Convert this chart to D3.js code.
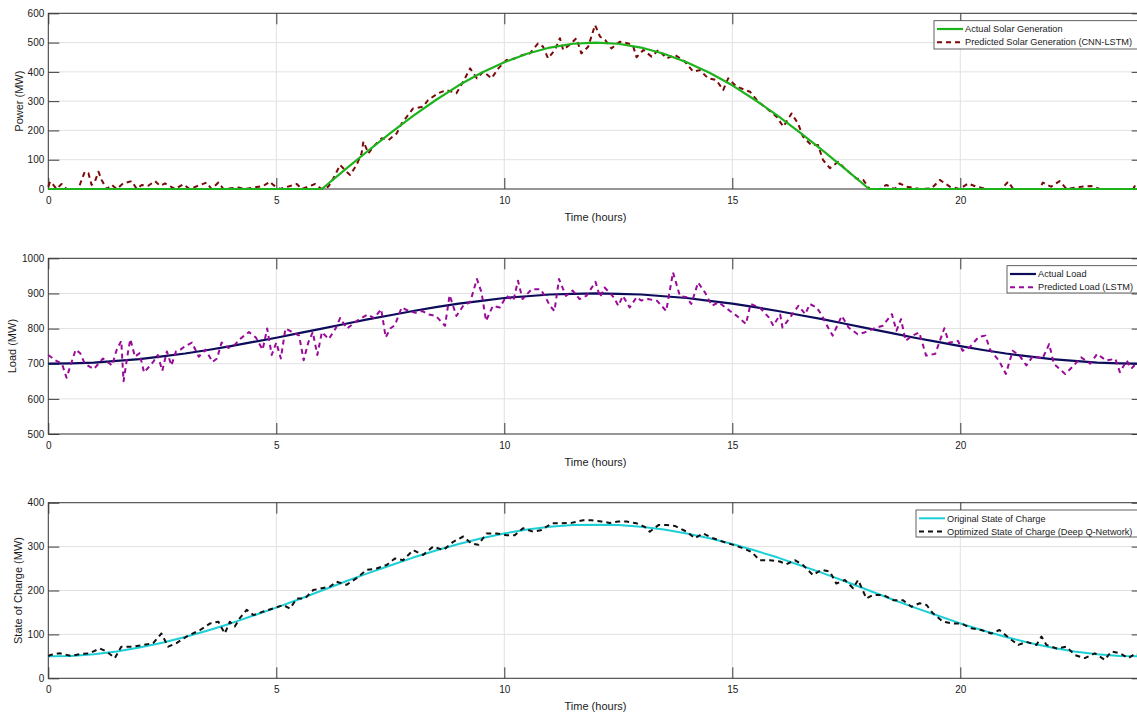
<!DOCTYPE html>
<html><head><meta charset="utf-8">
<script src="https://cdn.jsdelivr.net/npm/d3@7"></script>
<style>
body{margin:0;background:#fff}
svg{display:block}
text{font-family:"Liberation Sans",Arial,Helvetica,sans-serif;fill:#1a1a1a}
</style>
</head><body>
<svg id="chart" width="1137" height="715"></svg>
<script>
// ---------------- DATA ----------------
const hours = [0,0.5,1,1.5,2,2.5,3,3.5,4,4.5,5,5.5,6,6.5,7,7.5,8,8.5,9,9.5,10,10.5,11,11.5,12,
  12.5,13,13.5,14,14.5,15,15.5,16,16.5,17,17.5,18,18.5,19,19.5,20,20.5,21,21.5,22,22.5,23,23.5,24];

const xTicks = [0,5,10,15,20];
const solarTicks = [0,100,200,300,400,500,600];
const loadTicks = [500,600,700,800,900,1000];
const socTicks = [0,100,200,300,400];

const solarActual = [0,0,0,0,0,0,0,0,0,0,0,0,
  0,65,129,191,250,304,354,397,433,462,483,496,500,496,483,462,433,397,354,304,250,191,129,65,0,
  0,0,0,0,0,0,0,0,0,0,0,0];

const solarPredicted = [[0,8],[0.04,25],[0.11,14],[0.18,0],[0.29,17],[0.4,0],[0.66,0],[0.73,31],[0.8,59],[0.88,54],
  [0.95,14],[1.02,25],[1.1,59],[1.17,31],[1.28,0],[1.39,14],[1.5,0],[1.64,19],[1.83,27],[1.94,0],
  [2.05,14],[2.19,11],[2.34,27],[2.45,11],[2.56,19],[2.78,0],[2.96,16],[3.1,0],[3.47,22],[3.58,0],
  [3.73,22],[3.84,0],[4.17,5],[4.3,0],[4.71,10],[4.86,25],[4.93,14],[5.08,0],[5.45,17],[5.56,0],
  [5.7,8],[5.85,17],[5.99,0],[6.14,8],[6.25,36],[6.4,82],[6.54,59],[6.62,48],[6.76,82],[6.87,122],
  [6.91,162],[7.02,122],[7.13,145],[7.31,173],[7.46,167],[7.64,190],[7.75,224],[8.0,275],[8.22,281],[8.33,304],
  [8.55,327],[8.73,338],[8.95,327],[9.1,367],[9.25,412],[9.4,378],[9.54,401],[9.72,378],[9.87,412],[10.05,441],
  [10.23,446],[10.41,458],[10.56,463],[10.74,497],[10.85,486],[10.96,446],[11.11,475],[11.22,515],[11.29,475],[11.45,495],
  [11.58,515],[11.69,463],[11.84,486],[11.99,560],[12.1,520],[12.21,509],[12.35,480],[12.53,503],[12.72,497],[12.83,486],
  [12.9,450],[13.05,475],[13.23,452],[13.38,475],[13.56,446],[13.74,458],[13.96,435],[14.14,401],[14.29,406],[14.47,378],
  [14.65,372],[14.8,338],[14.91,378],[15.09,350],[15.25,340],[15.39,332],[15.57,298],[15.75,276],[15.97,247],[16.12,213],
  [16.3,258],[16.44,224],[16.55,179],[16.73,150],[16.88,150],[16.99,99],[17.14,71],[17.32,93],[17.5,65],[17.72,36],
  [17.87,31],[18.01,0],[18.23,0],[18.38,14],[18.56,0],[18.67,19],[18.82,8],[19.11,0],[19.37,2],[19.55,31],
  [19.77,8],[19.99,0],[20.17,19],[20.35,8],[20.57,0],[20.9,0],[21.05,25],[21.16,0],[21.5,0],[21.74,0],
  [21.81,22],[21.99,8],[22.18,27],[22.33,0],[22.66,8],[22.88,10],[23.06,0],[23.5,0],[23.79,0],[23.86,19],[24,5]];

const loadActual = [700,701,703,708,713,721,729,739,750,762,774,787,800,813,826,838,850,861,871,879,887,892,897,899,900,
  899,897,892,887,879,871,861,850,838,826,813,800,787,774,762,750,739,729,721,713,708,703,701,700];

const loadPredicted = [[0,725],[0.15,710],[0.3,700],[0.4,660],[0.5,700],[0.6,740],[0.7,730],[0.8,700],[1.0,685],[1.1,700],
  [1.2,715],[1.35,700],[1.4,695],[1.5,740],[1.6,765],[1.65,650],[1.75,735],[1.8,770],[1.9,720],[2.0,730],
  [2.1,675],[2.2,690],[2.3,705],[2.4,725],[2.5,680],[2.6,735],[2.7,695],[2.8,735],[2.9,740],[3.0,750],
  [3.15,760],[3.3,720],[3.45,740],[3.6,705],[3.7,715],[3.8,760],[3.95,745],[4.1,755],[4.2,770],[4.4,790],
  [4.55,775],[4.7,740],[4.8,800],[4.9,725],[5.0,760],[5.1,715],[5.2,800],[5.35,790],[5.5,780],[5.6,710],
  [5.7,760],[5.8,790],[5.9,725],[6.0,790],[6.15,770],[6.3,800],[6.4,830],[6.55,800],[6.7,815],[6.8,825],
  [7.0,840],[7.15,830],[7.3,855],[7.4,775],[7.5,800],[7.6,810],[7.75,860],[7.9,850],[8.05,845],[8.2,850],
  [8.35,840],[8.5,836],[8.7,808],[8.8,895],[8.95,836],[9.1,865],[9.25,875],[9.4,941],[9.5,903],[9.6,822],
  [9.75,865],[9.9,860],[10.05,893],[10.2,880],[10.3,936],[10.4,884],[10.6,912],[10.8,912],[10.9,890],[11.0,865],
  [11.1,850],[11.2,941],[11.35,893],[11.5,908],[11.65,884],[11.8,893],[12.0,933],[12.1,889],[12.2,917],[12.4,889],
  [12.5,865],[12.6,893],[12.75,860],[12.9,889],[13.0,880],[13.15,884],[13.35,879],[13.55,850],[13.7,960],[13.85,893],
  [14.0,889],[14.1,870],[14.25,931],[14.4,903],[14.55,865],[14.7,875],[14.8,865],[14.95,850],[15.1,836],[15.3,813],
  [15.4,870],[15.6,860],[15.8,832],[15.9,808],[16.05,840],[16.1,803],[16.27,832],[16.45,865],[16.6,841],[16.7,870],
  [16.85,860],[16.95,841],[17.1,803],[17.2,780],[17.4,836],[17.55,803],[17.75,784],[17.9,789],[18.1,800],[18.3,808],
  [18.5,841],[18.6,794],[18.7,827],[18.8,765],[18.95,780],[19.1,789],[19.25,723],[19.45,728],[19.65,801],[19.75,760],
  [19.95,765],[20.05,737],[20.2,746],[20.4,776],[20.55,780],[20.65,741],[20.85,708],[21.0,671],[21.15,737],[21.3,723],
  [21.45,695],[21.6,723],[21.8,714],[21.95,756],[22.05,700],[22.3,671],[22.45,690],[22.65,718],[22.85,700],[23.0,728],
  [23.2,709],[23.4,714],[23.5,676],[23.65,709],[23.75,686],[23.85,700],[24.0,690]];

const socActual = [50,51,55,61,70,81,94,109,125,143,161,180,200,220,239,257,275,291,306,319,330,339,345,349,350,
  349,345,339,330,319,306,291,275,257,239,220,200,180,161,143,125,109,94,81,70,61,55,51,50];

const socOptimized = [[0,50],[0.04,53],[0.25,57],[0.5,51],[0.7,55],[0.9,57],[1.13,68],[1.28,61],[1.46,46],[1.6,72],
  [1.86,72],[2.08,76],[2.3,80],[2.48,102],[2.63,72],[2.81,80],[3.03,95],[3.33,110],[3.55,125],[3.73,129],
  [3.87,102],[3.98,129],[4.09,118],[4.2,137],[4.35,156],[4.5,144],[4.71,152],[4.93,159],[5.15,167],[5.3,159],
  [5.45,182],[5.63,182],[5.81,201],[6.0,205],[6.18,209],[6.32,220],[6.54,213],[6.76,228],[6.98,247],[7.2,250],
  [7.42,258],[7.6,273],[7.78,269],[8.0,292],[8.22,281],[8.44,300],[8.66,292],[8.88,311],[9.1,323],[9.28,307],
  [9.43,304],[9.61,330],[9.83,330],[10.05,326],[10.23,326],[10.41,342],[10.63,334],[10.82,338],[11.04,353],[11.26,353],
  [11.47,354],[11.73,360],[11.91,360],[12.13,357],[12.31,354],[12.5,357],[12.68,357],[12.9,353],[13.08,345],[13.19,334],
  [13.38,349],[13.56,349],[13.74,347],[14.0,334],[14.18,319],[14.36,330],[14.58,319],[14.8,311],[15.02,304],[15.24,296],
  [15.42,288],[15.6,269],[15.82,269],[16.04,266],[16.19,260],[16.37,269],[16.55,258],[16.77,235],[16.95,247],[17.14,243],
  [17.28,216],[17.47,224],[17.65,205],[17.76,224],[17.94,182],[18.09,190],[18.31,190],[18.53,178],[18.74,178],[18.93,163],
  [19.11,171],[19.26,167],[19.4,148],[19.62,129],[19.84,125],[20.02,125],[20.24,114],[20.46,110],[20.68,102],[20.86,110],
  [21.08,91],[21.27,76],[21.45,83],[21.67,76],[21.78,95],[21.89,76],[22.11,68],[22.33,72],[22.51,53],[22.73,46],
  [22.95,57],[23.17,42],[23.31,61],[23.5,57],[23.68,46],[23.86,57],[24.0,52]];

// ---------------- LAYOUT ----------------
const svg = d3.select("#chart");
const X0 = 48.3, X1 = 1142.7;
const x = d3.scaleLinear().domain([0,24]).range([X0, X1]);
const TICK = 11;
const axisColor = "#3a3a3a";
const gridColor = "#e2e2e2";

const panels = [
  { top:13.3, bottom:189, domain:[0,600], ticks:solarTicks, ylabel:"Power (MW)", ylabelX:19,
    series:[
      {data: hours.map((h,i)=>[h, solarActual[i]]), color:"#1db31d", width:2.2, dash:null, name:"Actual Solar Generation"},
      {data: solarPredicted, color:"#7a0a0a", width:2, dash:"5,4", name:"Predicted Solar Generation (CNN-LSTM)"}
    ],
    legend:{x:934, y:20.7, w:206, h:28.3}, drawOrder:[1,0] },
  { top:258.3, bottom:434, domain:[500,1000], ticks:loadTicks, ylabel:"Load (MW)", ylabelX:12.5,
    series:[
      {data: hours.map((h,i)=>[h, loadActual[i]]), color:"#0c0c5a", width:2.2, dash:null, name:"Actual Load"},
      {data: loadPredicted, color:"#9a0a9a", width:2, dash:"5,4", name:"Predicted Load (LSTM)"}
    ],
    legend:{x:1007, y:265.7, w:133, h:27.3}, drawOrder:[0,1] },
  { top:502.7, bottom:678.3, domain:[0,400], ticks:socTicks, ylabel:"State of Charge (MW)", ylabelX:18.5,
    series:[
      {data: hours.map((h,i)=>[h, socActual[i]]), color:"#1ccfd6", width:2, dash:null, name:"Original State of Charge"},
      {data: socOptimized, color:"#111111", width:2, dash:"5,4", name:"Optimized State of Charge (Deep Q-Network)"}
    ],
    legend:{x:916, y:510, w:224, h:27}, drawOrder:[0,1] }
];

panels.forEach(p => {
  const y = d3.scaleLinear().domain(p.domain).range([p.bottom, p.top]);
  const g = svg.append("g");

  // grid
  g.append("g").selectAll("line").data(p.ticks).join("line")
    .attr("x1", X0).attr("x2", X1).attr("y1", d=>y(d)).attr("y2", d=>y(d))
    .attr("stroke", gridColor).attr("stroke-width", 1);
  g.append("g").selectAll("line").data(xTicks).join("line")
    .attr("x1", d=>x(d)).attr("x2", d=>x(d)).attr("y1", p.top).attr("y2", p.bottom)
    .attr("stroke", gridColor).attr("stroke-width", 1);

  // axes (MATLAB-style inward ticks on all four sides)
  const ax = g.append("g").attr("transform", `translate(0,${p.bottom})`)
    .call(d3.axisBottom(x).tickValues(xTicks).tickFormat(d3.format("d")).tickSizeInner(-TICK).tickSizeOuter(0).tickPadding(7.5));
  const axT = g.append("g").attr("transform", `translate(0,${p.top})`)
    .call(d3.axisTop(x).tickValues(xTicks).tickFormat("").tickSizeInner(-TICK).tickSizeOuter(0));
  const ay = g.append("g").attr("transform", `translate(${X0},0)`)
    .call(d3.axisLeft(y).tickValues(p.ticks).tickFormat(d3.format("d")).tickSizeInner(-TICK).tickSizeOuter(0).tickPadding(4));
  const ayR = g.append("g").attr("transform", `translate(${X1},0)`)
    .call(d3.axisRight(y).tickValues(p.ticks).tickFormat("").tickSizeInner(-TICK).tickSizeOuter(0));
  [ax, axT, ay, ayR].forEach(a => {
    a.select(".domain").remove();
    a.selectAll(".tick line").attr("stroke", axisColor).attr("stroke-width", 1);
    a.selectAll(".tick text").attr("font-size", 10).attr("fill", "#1a1a1a")
      .attr("font-family", '"Liberation Sans",Arial,sans-serif');
  });
  g.append("rect").attr("x", X0).attr("y", p.top).attr("width", X1 - X0).attr("height", p.bottom - p.top)
    .attr("fill", "none").attr("stroke", axisColor).attr("stroke-width", 1);

  // labels
  g.append("text").attr("x", (X0 + X1) / 2).attr("y", p.bottom + 31.5)
    .attr("text-anchor", "middle").attr("font-size", 11).text("Time (hours)");
  g.append("text").attr("transform", `translate(${p.ylabelX},${(p.top + p.bottom) / 2}) rotate(-90)`)
    .attr("text-anchor", "middle").attr("dy", "0.35em").attr("font-size", 11).text(p.ylabel);

  // data
  const line = d3.line().x(d => x(d[0])).y(d => y(d[1]));
  p.drawOrder.forEach(i => {
    const s = p.series[i];
    g.append("path").datum(s.data).attr("d", line)
      .attr("fill", "none").attr("stroke", s.color).attr("stroke-width", s.width)
      .attr("stroke-dasharray", s.dash).attr("stroke-linejoin", "round");
  });

  // legend
  const L = p.legend;
  const lg = g.append("g");
  lg.append("rect").attr("x", L.x).attr("y", L.y).attr("width", L.w).attr("height", L.h)
    .attr("fill", "#fff").attr("stroke", axisColor).attr("stroke-width", 0.8);
  p.series.forEach((s, i) => {
    const cy = L.y + 8.3 + i * 13.2;
    lg.append("line").attr("x1", L.x + 3).attr("x2", L.x + 29).attr("y1", cy).attr("y2", cy)
      .attr("stroke", s.color).attr("stroke-width", s.width).attr("stroke-dasharray", s.dash);
    lg.append("text").attr("x", L.x + 31).attr("y", cy).attr("dy", "0.35em")
      .attr("font-size", 9.2).text(s.name);
  });
});
</script>
</body></html>
